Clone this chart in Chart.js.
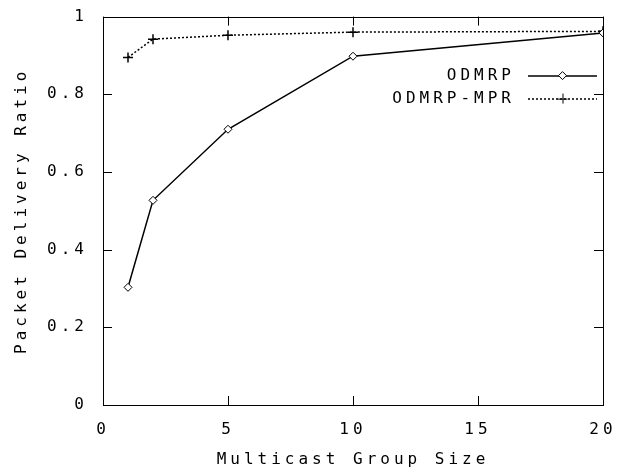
<!DOCTYPE html>
<html>
<head>
<meta charset="utf-8">
<script src="https://cdn.jsdelivr.net/npm/chart.js@4"></script>
<style>
  body { margin: 0; background: #fff; }
  #wrap { width: 626px; height: 469px; }
</style>
</head>
<body>
<div id="wrap"><canvas id="chart"></canvas></div>
<script>
const groupSizes = [1, 2, 5, 10, 20];
const odmrp = [0.303, 0.527, 0.71, 0.898, 0.958];
const odmrpMpr = [0.895, 0.942, 0.952, 0.96, 0.962];
const xTicks = [0, 5, 10, 15, 20];
const yTicks = [0, 0.2, 0.4, 0.6, 0.8, 1];

const FONT = { family: "'DejaVu Sans Mono', 'Liberation Mono', monospace", size: 16 };
const SPACING = '4px';

// wide spaced lettering like the gnuplot bitmap font
const spacedText = {
    id: 'spacedText',
    beforeLayout(chart) { chart.ctx.letterSpacing = SPACING; },
    beforeDraw(chart) { chart.ctx.letterSpacing = SPACING; }
};

// gnuplot style: inward ticks on all four sides
const innerTicks = {
    id: 'innerTicks',
    afterDraw(chart) {
        const { ctx, chartArea: a, scales } = chart;
        ctx.save();
        ctx.strokeStyle = '#000';
        ctx.lineWidth = 1;
        ctx.beginPath();
        scales.x.ticks.forEach(t => {
            const px = Math.round(scales.x.getPixelForValue(t.value)) + 0.5;
            ctx.moveTo(px, a.bottom); ctx.lineTo(px, a.bottom - 9);
            ctx.moveTo(px, a.top); ctx.lineTo(px, a.top + 9);
        });
        scales.y.ticks.forEach(t => {
            const py = Math.round(scales.y.getPixelForValue(t.value)) + 0.5;
            ctx.moveTo(a.left, py); ctx.lineTo(a.left + 9, py);
            ctx.moveTo(a.right, py); ctx.lineTo(a.right - 9, py);
        });
        ctx.stroke();
        ctx.strokeRect(Math.round(a.left) + 0.5, Math.round(a.top) + 0.5,
            Math.round(a.right - a.left), Math.round(a.bottom - a.top));
        ctx.restore();
    }
};

// legend inside the plot, text right-aligned with line sample on the right
const insideLegend = {
    id: 'insideLegend',
    afterDraw(chart) {
        const { ctx, chartArea: a } = chart;
        ctx.save();
        ctx.font = FONT.size + 'px ' + FONT.family;
        ctx.letterSpacing = SPACING;
        ctx.fillStyle = '#000';
        ctx.textAlign = 'right';
        ctx.textBaseline = 'middle';
        chart.data.datasets.forEach((ds, i) => {
            const y = a.top + 59 + i * 23;
            const x1 = a.right - 75, x2 = a.right - 6;
            ctx.fillText(ds.label, x1 - 13, y);
            ctx.strokeStyle = '#000';
            ctx.lineWidth = ds.borderWidth;
            ctx.setLineDash(ds.borderDash || []);
            ctx.beginPath();
            ctx.moveTo(x1, y + 0.5); ctx.lineTo(x2, y + 0.5);
            ctx.stroke();
            ctx.setLineDash([]);
            const mx = (x1 + x2) / 2, r = ds.pointRadius;
            ctx.lineWidth = 1;
            ctx.beginPath();
            if (ds.pointStyle === 'rectRot') {
                ctx.moveTo(mx, y - r); ctx.lineTo(mx + r, y); ctx.lineTo(mx, y + r); ctx.lineTo(mx - r, y); ctx.closePath();
                ctx.fillStyle = '#fff'; ctx.fill();
            } else {
                ctx.moveTo(mx - r, y + 0.5); ctx.lineTo(mx + r, y + 0.5);
                ctx.moveTo(mx + 0.5, y - r); ctx.lineTo(mx + 0.5, y + r);
            }
            ctx.stroke();
            ctx.fillStyle = '#000';
        });
        ctx.restore();
    }
};

new Chart(document.getElementById('chart'), {
    type: 'line',
    data: {
        datasets: [{
            label: 'ODMRP',
            data: groupSizes.map((x, i) => ({ x: x, y: odmrp[i] })),
            borderColor: '#000',
            borderWidth: 1.5,
            pointStyle: 'rectRot',
            pointRadius: 4,
            pointBackgroundColor: '#fff',
            pointBorderColor: '#000',
            pointBorderWidth: 1
        }, {
            label: 'ODMRP-MPR',
            data: groupSizes.map((x, i) => ({ x: x, y: odmrpMpr[i] })),
            borderColor: '#000',
            borderWidth: 1.5,
            borderDash: [2, 2],
            pointStyle: 'cross',
            pointRadius: 5,
            pointBorderColor: '#000',
            pointBorderWidth: 1.5
        }]
    },
    options: {
        responsive: true,
        maintainAspectRatio: false,
        animation: false,
        layout: { padding: { top: 5, right: 23, left: 0, bottom: 0 } },
        plugins: {
            legend: { display: false },
            tooltip: { enabled: false }
        },
        scales: {
            x: {
                type: 'linear',
                min: 0, max: 20,
                afterBuildTicks: s => { s.ticks = xTicks.map(v => ({ value: v })); },
                afterFit: s => { s.height = 64; },
                grid: { display: false },
                border: { display: false },
                ticks: { color: '#000', font: FONT, padding: 7, maxRotation: 0 },
                title: { display: true, text: 'Multicast Group Size', color: '#000', font: FONT, padding: { top: 4, bottom: 0 } }
            },
            y: {
                type: 'linear',
                min: 0, max: 1,
                afterBuildTicks: s => { s.ticks = yTicks.map(v => ({ value: v })); },
                afterFit: s => { s.width = 103; },
                grid: { display: false },
                border: { display: false },
                ticks: { color: '#000', font: FONT, padding: 7, callback: v => String(v) },
                title: { display: true, text: 'Packet Delivery Ratio', color: '#000', font: FONT, padding: { top: 12, bottom: 0 } }
            }
        }
    },
    plugins: [spacedText, innerTicks, insideLegend]
});
</script>
</body>
</html>
